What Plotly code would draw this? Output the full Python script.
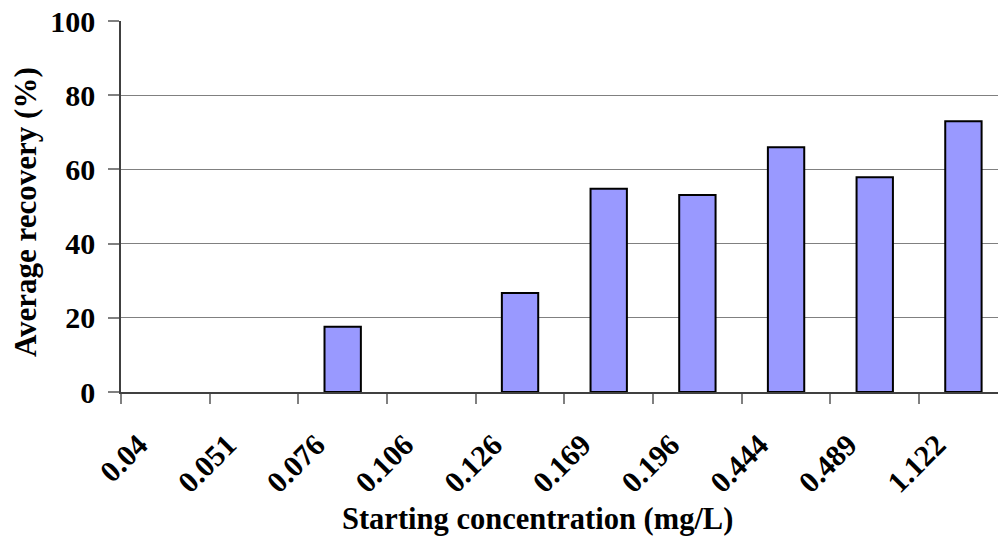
import plotly.graph_objects as go

categories = ["0.04", "0.051", "0.076", "0.106", "0.126", "0.169", "0.196", "0.444", "0.489", "1.122"]
recovery = [None, None, 17.6, None, 26.7, 54.8, 53.1, 66.0, 57.9, 73.0]
y_ticks = [0, 20, 40, 60, 80, 100]

FONT = "Liberation Serif"
PAD = "\u00a0" * 5  # trailing padding to push rotated labels down-left

fig = go.Figure()
fig.add_trace(go.Bar(
    x=categories,
    y=recovery,
    marker=dict(color="#9999FF", line=dict(color="#000000", width=2)),
    width=0.41,
))

fig.update_layout(
    width=998, height=546,
    margin=dict(l=121, r=0, t=21, b=154),
    plot_bgcolor="#FFFFFF",
    paper_bgcolor="#FFFFFF",
    showlegend=False,
    font=dict(family=FONT, color="#000000"),
    xaxis=dict(
        type="category",
        range=[-0.5, 9.39],
        tickmode="array",
        tickvals=categories,
        ticktext=[c + PAD for c in categories],
        tickson="boundaries",
        ticks="outside",
        ticklen=10,
        tickcolor="#808080",
        tickwidth=1.5,
        showline=True,
        linecolor="#404040",
        linewidth=1.5,
        showgrid=False,
        tickangle=-45,
        ticklabelstandoff=-5,
        tickfont=dict(family=FONT, size=30, color="#000000", weight="bold"),
    ),
    yaxis=dict(
        range=[0, 100],
        tickvals=y_ticks,
        ticks="outside",
        ticklen=11,
        tickcolor="#808080",
        tickwidth=1.5,
        showline=True,
        linecolor="#404040",
        linewidth=1.5,
        showgrid=True,
        gridcolor="#808080",
        gridwidth=1,
        zeroline=False,
        ticklabelstandoff=7,
        tickfont=dict(family=FONT, size=30, color="#000000", weight="bold"),
    ),
    annotations=[
        dict(text="<b>Starting concentration (mg/L)</b>", xref="paper", yref="paper",
             x=0.475, y=-0.342, xanchor="center", yanchor="middle", showarrow=False,
             font=dict(family=FONT, size=30.5, color="#000000")),
        dict(text="<b>Average recovery (%)</b>", xref="paper", yref="paper",
             x=-0.1095, y=0.485, xanchor="center", yanchor="middle", showarrow=False,
             textangle=-90,
             font=dict(family=FONT, size=31, color="#000000")),
    ],
)

fig.write_html("out.html")
